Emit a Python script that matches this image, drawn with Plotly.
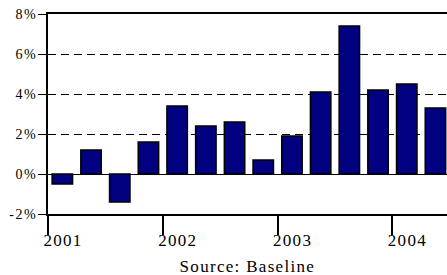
import plotly.graph_objects as go

# Data
quarters = ["2001 Q1", "2001 Q2", "2001 Q3", "2001 Q4",
            "2002 Q1", "2002 Q2", "2002 Q3", "2002 Q4",
            "2003 Q1", "2003 Q2", "2003 Q3", "2003 Q4",
            "2004 Q1", "2004 Q2"]
growth = [-0.5, 1.2, -1.4, 1.6, 3.4, 2.4, 2.6, 0.7, 1.9, 4.1, 7.4, 4.2, 4.5, 3.3]
year_ticks = [2001, 2002, 2003, 2004]
year_labels = ["2001", "2002", "2003", "2004"]
y_ticks = [-2, 0, 2, 4, 6, 8]
y_labels = ["-2%", "0%", "2%", "4%", "6%", "8%"]
source_text = "Source: Baseline"

# quarter -> fractional year at the middle of the quarter
xpos = [int(q.split()[0]) + (int(q.split()[1][1]) - 0.5) / 4 for q in quarters]

fig = go.Figure()
fig.add_trace(go.Bar(
    x=xpos, y=growth, width=0.178,
    marker=dict(color="#000080", line=dict(color="black", width=1.5)),
    hoverinfo="y",
))

font = "'Liberation Serif', Tinos, 'Times New Roman', 'DejaVu Serif', serif"
fig.update_layout(
    width=447, height=275,
    margin=dict(l=48, r=0, t=14, b=61),
    paper_bgcolor="white", plot_bgcolor="white",
    showlegend=False,
    font=dict(family=font, color="black"),
    xaxis=dict(
        range=[2001, 2004.4756],
        tickvals=year_ticks, ticktext=year_labels,
        ticks="outside", ticklen=19, tickwidth=2, tickcolor="black",
        ticklabelshift=15, ticklabelstandoff=-9,
        tickfont=dict(size=17, family=font, color="black"),
        showline=True, linecolor="black", linewidth=2, mirror=True,
        showgrid=False, zeroline=False, automargin=False,
    ),
    yaxis=dict(
        range=[-2, 8],
        tickvals=y_ticks, ticktext=y_labels,
        ticks="outside", ticklen=8, tickwidth=1, tickcolor="black",
        ticklabelstandoff=-2,
        tickfont=dict(size=14, family=font, color="black"),
        showline=True, linecolor="black", linewidth=2,
        showgrid=True, gridcolor="black", gridwidth=1, griddash="8px,5px",
        zeroline=True, zerolinecolor="black", zerolinewidth=1,
        automargin=False,
    ),
    annotations=[dict(
        text=source_text, xref="paper", yref="paper", x=0.5, y=-0.26,
        xanchor="center", yanchor="middle", showarrow=False,
        font=dict(size=17, family=font, color="black"),
    )],
)

post = ("document.body.style.margin='0';"
        "var gd=document.getElementById('{plot_id}');"
        "gd.querySelectorAll('.xtick text, .annotation-text').forEach(function(t){t.style.letterSpacing='1.3px';});"
        "gd.querySelectorAll('.ytick text').forEach(function(t){t.style.letterSpacing='1.5px';});")

fig.write_html("out.html", post_script=post, config={"displayModeBar": False})
